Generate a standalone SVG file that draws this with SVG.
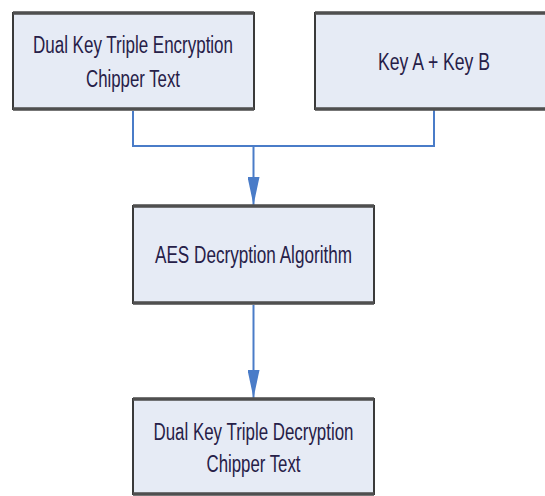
<svg xmlns="http://www.w3.org/2000/svg" width="545" height="496" viewBox="0 0 545 496">
<style>
.box{fill:#e6ebf5;stroke:#3a3a3a;stroke-width:2}
.edge{stroke:#555;stroke-width:4;stroke-opacity:0.8}
.lbl{font-family:"Liberation Sans",Arial,sans-serif;font-size:23px;fill:#262048;text-anchor:middle}
.con{fill:none;stroke:#4a7cc8;stroke-width:2}
</style>
<defs>
<marker id="arr" markerWidth="28" markerHeight="12" refX="28" refY="6" orient="auto" markerUnits="userSpaceOnUse" viewBox="0 0 28 12">
<path d="M0,0 L28,6 L0,12 Z" fill="#4a7cc8"/>
</marker>
</defs>
<rect width="545" height="496" fill="#ffffff"/>
<g id="connectors">
<path class="con" d="M133,111 V146 H434 V109"/>
<path class="con" d="M253.5,146 V205" marker-end="url(#arr)"/>
<path class="con" d="M253.5,305 V398" marker-end="url(#arr)"/>
</g>
<g id="n1">
<rect class="box" x="13" y="13" width="241" height="96"/>
<line class="edge" x1="13" y1="13" x2="254" y2="13"/>
<line class="edge" x1="13" y1="109" x2="254" y2="109"/>
<text class="lbl" x="133" y="53" textLength="200" lengthAdjust="spacingAndGlyphs">Dual Key Triple Encryption</text>
<text class="lbl" x="133" y="87" textLength="94" lengthAdjust="spacingAndGlyphs">Chipper Text</text>
</g>
<g id="n2">
<rect class="box" x="315" y="13" width="240" height="96"/>
<line class="edge" x1="315" y1="13" x2="545" y2="13"/>
<line class="edge" x1="315" y1="109" x2="545" y2="109"/>
<text class="lbl" x="434" y="70" textLength="112" lengthAdjust="spacingAndGlyphs">Key A + Key B</text>
</g>
<g id="n3">
<rect class="box" x="133" y="206" width="241" height="97"/>
<line class="edge" x1="133" y1="206" x2="374" y2="206"/>
<line class="edge" x1="133" y1="303" x2="374" y2="303"/>
<text class="lbl" x="253.5" y="263" textLength="197" lengthAdjust="spacingAndGlyphs">AES Decryption Algorithm</text>
</g>
<g id="n4">
<rect class="box" x="133" y="399" width="241" height="95"/>
<line class="edge" x1="133" y1="399" x2="374" y2="399"/>
<line class="edge" x1="133" y1="494" x2="374" y2="494"/>
<text class="lbl" x="253.5" y="440" textLength="200" lengthAdjust="spacingAndGlyphs">Dual Key Triple Decryption</text>
<text class="lbl" x="253.5" y="472" textLength="94" lengthAdjust="spacingAndGlyphs">Chipper Text</text>
</g>
</svg>
